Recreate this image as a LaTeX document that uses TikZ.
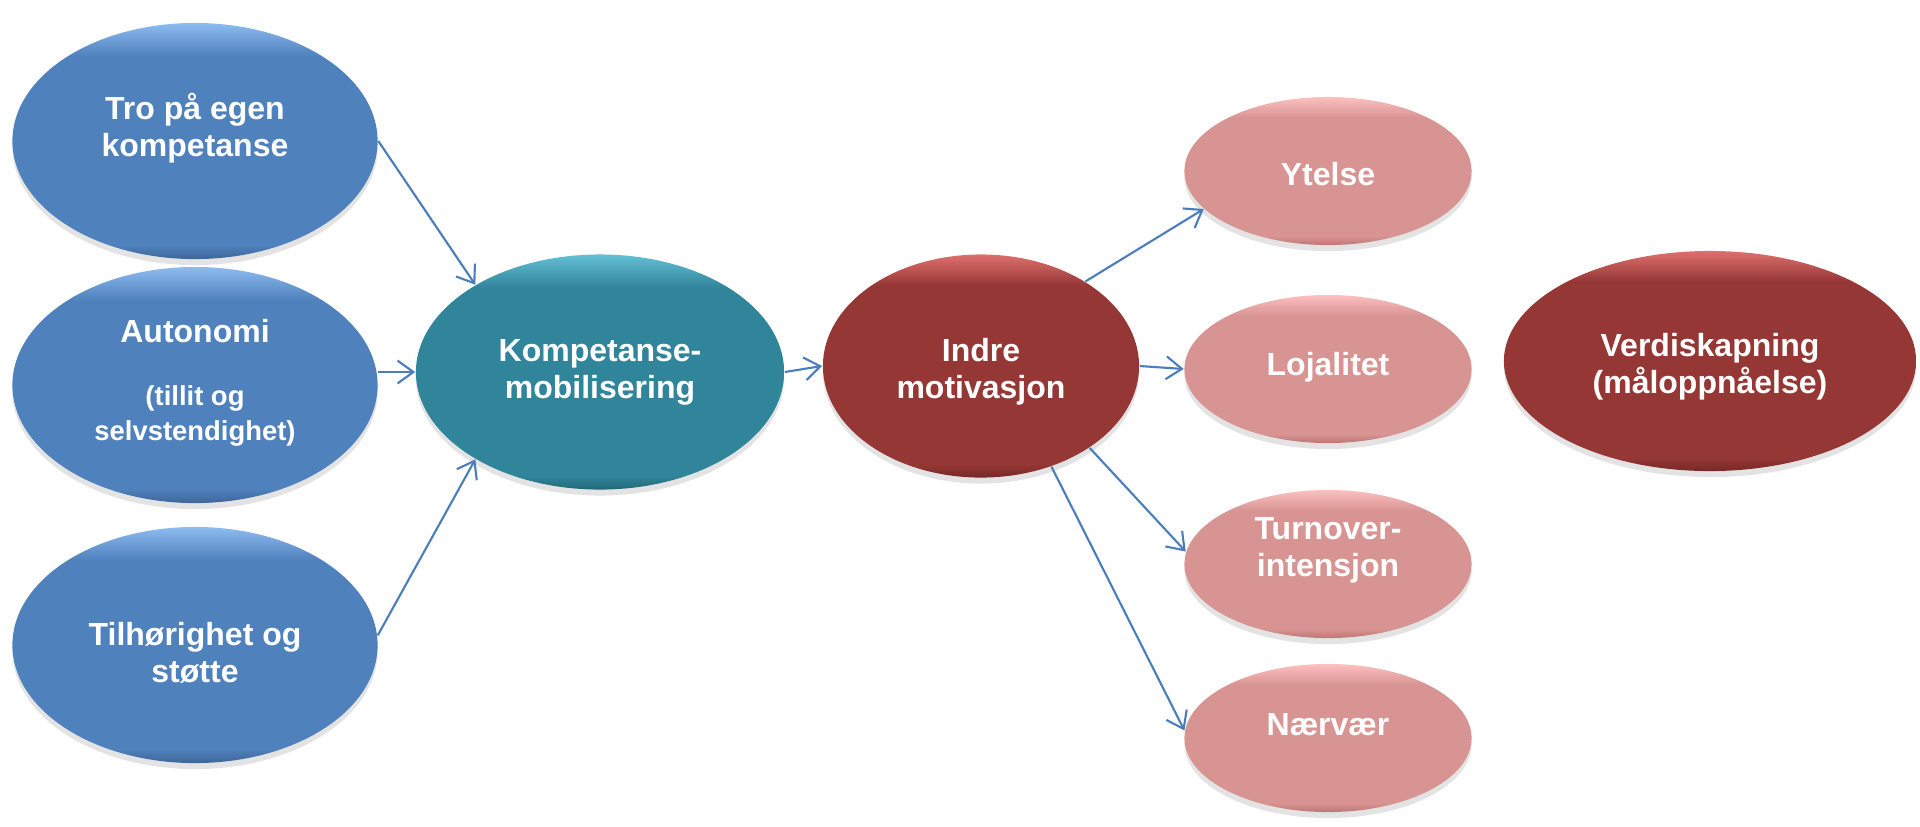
\documentclass[tikz,border=0pt]{standalone}
\usepackage{fontspec}
\setmainfont{Liberation Sans}
\usetikzlibrary{shapes.geometric,arrows.meta,shadows}
\definecolor{bluemn}{RGB}{79,129,189}
\definecolor{bluelt}{RGB}{140,188,240}
\definecolor{bluedk}{RGB}{62,102,152}
\definecolor{tealmn}{RGB}{49,133,155}
\definecolor{teallt}{RGB}{100,192,212}
\definecolor{tealdk}{RGB}{36,104,122}
\definecolor{redmn}{RGB}{149,55,53}
\definecolor{redlt}{RGB}{222,112,110}
\definecolor{reddk}{RGB}{118,40,40}
\definecolor{pinkmn}{RGB}{216,148,146}
\definecolor{pinklt}{RGB}{252,192,192}
\definecolor{pinkdk}{RGB}{188,118,118}
\definecolor{arrowblue}{RGB}{74,126,187}
\pgfdeclareverticalshading{shBlue}{100bp}{color(0bp)=(bluedk); color(25bp)=(bluedk); color(28bp)=(bluemn); color(68bp)=(bluemn); color(75bp)=(bluelt); color(100bp)=(bluelt)}
\pgfdeclareverticalshading{shTeal}{100bp}{color(0bp)=(tealdk); color(25bp)=(tealdk); color(28bp)=(tealmn); color(68bp)=(tealmn); color(75bp)=(teallt); color(100bp)=(teallt)}
\pgfdeclareverticalshading{shRed}{100bp}{color(0bp)=(reddk); color(25bp)=(reddk); color(28bp)=(redmn); color(68bp)=(redmn); color(75bp)=(redlt); color(100bp)=(redlt)}
\pgfdeclareverticalshading{shPink}{100bp}{color(0bp)=(pinkdk); color(25bp)=(pinkdk); color(28bp)=(pinkmn); color(68bp)=(pinkmn); color(75bp)=(pinklt); color(100bp)=(pinklt)}
\begin{document}
\begin{tikzpicture}[x=0.01cm,y=-0.01cm,
  ell/.style={ellipse, inner sep=0pt, draw=none,
    drop shadow={opacity=0.22,shadow xshift=0pt,shadow yshift=-0.06cm}},
  blueell/.style={ell, shading=shBlue, minimum width=3.65cm, minimum height=2.36cm},
  tealell/.style={ell, shading=shTeal, minimum width=3.68cm, minimum height=2.35cm},
  redell/.style={ell, shading=shRed},
  pinkell/.style={ell, shading=shPink, minimum width=2.87cm, minimum height=1.48cm},
  lbl/.style={text=white, font=\fontsize{9.1}{10.5}\selectfont\bfseries, align=center, inner sep=0pt},
  small/.style={text=white, font=\fontsize{7.8}{9.7}\selectfont\bfseries, align=center, inner sep=0pt},
  conn/.style={draw=arrowblue, line width=0.6pt, -{Straight Barb[length=4.5pt,width=6.5pt]}}]
\useasboundingbox (0,0) rectangle (1920,826);

% ellipses
\node[blueell] (tro) at (195,141) {};
\node[blueell] (auto) at (195,385) {};
\node[blueell] (tilh) at (195,645) {};
\node[tealell] (komp) at (600,372) {};
\node[redell, minimum width=3.16cm, minimum height=2.23cm] (indre) at (981,366) {};
\node[pinkell] (ytel) at (1328,171) {};
\node[pinkell] (loj) at (1328,369) {};
\node[pinkell] (turn) at (1328,564) {};
\node[pinkell] (naer) at (1328,738) {};
\node[redell, minimum width=4.12cm, minimum height=2.2cm] (verdi) at (1710,361) {};

% texts
\node[lbl] (ttro) at (195,128) {Tro på egen\\kompetanse};
\node[lbl] (tauto) at (195,331) {Autonomi};
\node[small] (tauto2) at (195,416) {(tillit og\\selvstendighet)};
\node[lbl] (ttilh) at (195,653) {Tilhørighet og\\støtte};
\node[lbl] (tkomp) at (600,372) {Kompetanse-\\mobilisering};
\node[lbl] (tindre) at (981,372) {Indre\\motivasjon};
\node[lbl] (tytel) at (1328,174) {Ytelse};
\node[lbl] (tloj) at (1328,367) {Lojalitet};
\node[lbl] (tturn) at (1328,550) {Turnover-\\intensjon};
\node[lbl] (tnaer) at (1328,725) {Nærvær};
\node[lbl] (tverdi) at (1710,367) {Verdiskapning\\(måloppnåelse)};

% connectors
\draw[conn] (tro.east) -- (komp.145);
\draw[conn] (auto.east |- komp.west) -- (komp.west);
\draw[conn] (tilh.3) -- (komp.215);
\draw[conn] (komp.east) -- (indre.west);
\draw[conn] (indre.39) -- (ytel.197);
\draw[conn] (indre.east) -- (loj.west);
\draw[conn] (indre.-37) -- (turn.175);
\draw[conn] (indre.-55) -- (naer.177);
\end{tikzpicture}
\end{document}
